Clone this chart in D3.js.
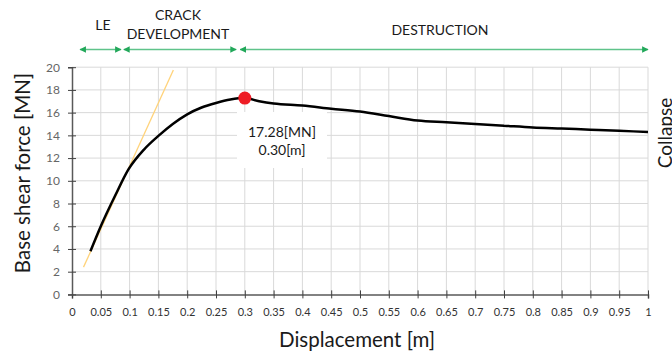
<!DOCTYPE html>
<html>
<head>
<meta charset="utf-8">
<script src="https://cdn.jsdelivr.net/npm/d3@7"></script>
<style>
  body { margin: 0; background: #fff; }
  svg { display: block; font-family: Lato, sans-serif; }
</style>
</head>
<body>
<div id="chart"></div>
<script>
'use strict';

// pushover curve
var disp = [0.032, 0.05, 0.075, 0.098, 0.125, 0.15, 0.175, 0.2, 0.225, 0.25, 0.275, 0.30,
  0.325, 0.35, 0.4, 0.45, 0.5, 0.55, 0.6, 0.65, 0.7, 0.75, 0.8, 0.85, 0.9, 0.95, 1.0];
var force = [3.8, 6.0, 8.7, 11.0, 12.75, 13.95, 15.0, 15.85, 16.45, 16.85, 17.15, 17.28,
  17.0, 16.8, 16.62, 16.35, 16.1, 15.7, 15.3, 15.15, 15.0, 14.85, 14.7, 14.6, 14.5, 14.4, 14.3];

// initial stiffness tangent
var tangentX = [0.02, 0.176];
var tangentY = [2.4, 19.75];

var peak = {x: 0.30, y: 17.28};

// phases along the top
var phaseNames = [['LE'], ['CRACK', 'DEVELOPMENT'], ['DESTRUCTION']];
var phaseStart = [0.014, 0.09, 0.292];
var phaseEnd = [0.085, 0.285, 1.0];

var xTicks = d3.range(0, 21).map(function(i) { return i / 20; });
var yTicks = d3.range(0, 21, 2);

var width = 672, height = 354;
var padLeft = 72, padRight = 648, padTop = 67.2, padBottom = 294.4;

var x = d3.scaleLinear().domain([0, 1]).range([padLeft, padRight]);
var y = d3.scaleLinear().domain([0, 20]).range([padBottom, padTop]);

var svg = d3.select('#chart').append('svg')
  .attr('width', width)
  .attr('height', height);

// grid
svg.append('g').selectAll('line').data(xTicks.slice(1)).enter().append('line')
  .attr('x1', function(d) { return x(d); }).attr('x2', function(d) { return x(d); })
  .attr('y1', y(0)).attr('y2', y(20))
  .attr('stroke', '#d9d9d9').attr('stroke-width', 1);
svg.append('g').selectAll('line').data(yTicks.slice(1)).enter().append('line')
  .attr('x1', x(0)).attr('x2', x(1))
  .attr('y1', function(d) { return y(d); }).attr('y2', function(d) { return y(d); })
  .attr('stroke', '#d9d9d9').attr('stroke-width', 1);

// axes (cross ticks)
var xAxis = svg.append('g').attr('transform', 'translate(0,' + y(0) + ')')
  .call(d3.axisBottom(x).tickValues(xTicks).tickSize(4)
    .tickFormat(function(d) { return d3.format('~g')(+d.toFixed(2)); }));
xAxis.selectAll('.tick line').attr('y1', -4);
xAxis.selectAll('text').attr('y', 14).attr('font-size', 11).attr('fill', '#333')
  .attr('font-family', 'Lato, sans-serif');

var yAxis = svg.append('g').attr('transform', 'translate(' + x(0) + ',0)')
  .call(d3.axisLeft(y).tickValues(yTicks).tickSize(4));
yAxis.selectAll('.tick line').attr('x1', 4);
yAxis.selectAll('text').attr('x', -12).attr('font-size', 12).attr('fill', '#666')
  .attr('font-family', 'Lato, sans-serif');

svg.selectAll('.domain').attr('stroke', '#595959').attr('stroke-width', 1.5);
svg.selectAll('.tick line').attr('stroke', '#404040').attr('stroke-width', 1);

// tangent line
svg.append('line')
  .attr('x1', x(tangentX[0])).attr('y1', y(tangentY[0]))
  .attr('x2', x(tangentX[1])).attr('y2', y(tangentY[1]))
  .attr('stroke', '#ffd37a').attr('stroke-width', 1.3);

// curve
var pts = disp.map(function(d, i) { return [d, force[i]]; });
svg.append('path').datum(pts)
  .attr('fill', 'none').attr('stroke', '#000').attr('stroke-width', 2.5)
  .attr('d', d3.line().x(function(d) { return x(d[0]); }).y(function(d) { return y(d[1]); })
    .curve(d3.curveMonotoneX));

// peak marker + label
svg.append('circle').attr('cx', x(peak.x)).attr('cy', y(peak.y)).attr('r', 6.5)
  .attr('fill', '#ee1c25');
svg.append('rect').attr('x', 237).attr('y', 112).attr('width', 90).attr('height', 56)
  .attr('fill', '#fff');
svg.append('text').attr('x', 282).attr('y', 137).attr('text-anchor', 'middle')
  .attr('font-size', 14).attr('fill', '#1a1a1a').text(peak.y.toFixed(2) + '[MN]');
svg.append('text').attr('x', 282).attr('y', 155).attr('text-anchor', 'middle')
  .attr('font-size', 14).attr('fill', '#1a1a1a').text(peak.x.toFixed(2) + '[m]');

// phase arrows
var green = '#22a85a';
var defs = svg.append('defs');
defs.append('marker').attr('id', 'ah').attr('viewBox', '0 0 10 10')
  .attr('refX', 9).attr('refY', 5).attr('markerWidth', 5).attr('markerHeight', 5)
  .attr('orient', 'auto-start-reverse')
  .append('path').attr('d', 'M0,0L10,5L0,10z').attr('fill', green);

var ay = 49.5;
phaseStart.forEach(function(s, i) {
  svg.append('line')
    .attr('x1', x(s)).attr('x2', x(phaseEnd[i]))
    .attr('y1', ay).attr('y2', ay)
    .attr('stroke', '#5fc38a').attr('stroke-width', 1.3)
    .attr('marker-start', 'url(#ah)').attr('marker-end', 'url(#ah)');
});

var labelPos = [[103, [30]], [178, [20, 39]], [440, [35]]];
phaseNames.forEach(function(lines, i) {
  lines.forEach(function(t, j) {
    svg.append('text').attr('x', labelPos[i][0]).attr('y', labelPos[i][1][j])
      .attr('text-anchor', 'middle').attr('font-size', 14).attr('fill', '#1a1a1a')
      .text(t);
  });
});

// axis titles
svg.append('text').attr('x', 357).attr('y', 347).attr('text-anchor', 'middle')
  .attr('font-size', 20.5).attr('fill', '#1a1a1a').text('Displacement [m]');
svg.append('text').attr('transform', 'translate(30,' + 173 + ') rotate(-90)')
  .attr('text-anchor', 'middle').attr('font-size', 20.5).attr('fill', '#1a1a1a')
  .text('Base shear force [MN]');
svg.append('text').attr('transform', 'translate(672,' + 133 + ') rotate(-90)')
  .attr('text-anchor', 'middle').attr('font-size', 19).attr('fill', '#1a1a1a')
  .text('Collapse');
</script>
</body>
</html>
